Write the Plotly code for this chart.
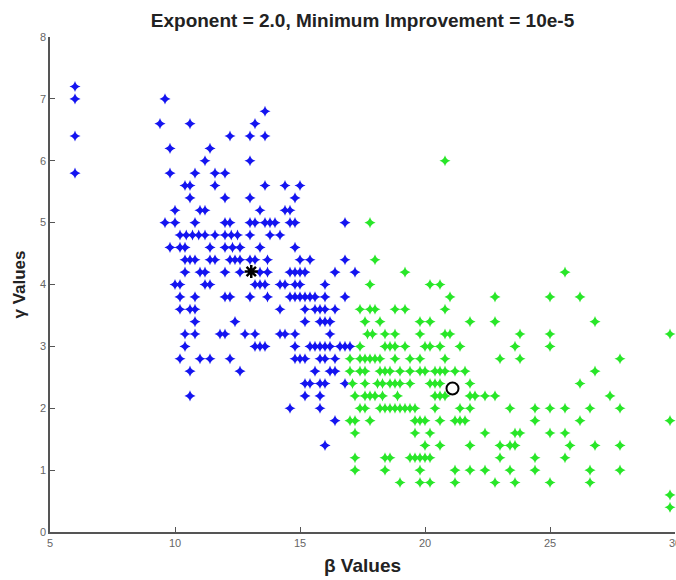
import plotly.graph_objects as go

# gamma levels (rows) and beta values found on each row
blue_levels = [7.2, 7.0, 6.8, 6.6, 6.4, 6.2, 6.0, 5.8, 5.6, 5.4, 5.2, 5.0, 4.8, 4.6, 4.4,
               4.2, 4.0, 3.8, 3.6, 3.4, 3.2, 3.0, 2.8, 2.6, 2.4, 2.2, 2.0, 1.8, 1.4]
blue_betas = [
    [6.0],
    [6.0, 9.6],
    [13.6],
    [9.4, 10.6, 13.2],
    [6.0, 12.2, 13.0, 13.6],
    [9.8, 11.4],
    [11.2, 13.0],
    [6.0, 9.8, 10.8, 11.6, 12.0],
    [10.4, 10.6, 11.6, 13.6, 14.4, 15.0],
    [10.6, 12.0, 13.0, 14.8],
    [10.0, 11.0, 11.2, 13.4, 14.4, 14.6],
    [9.6, 10.0, 10.8, 12.0, 12.2, 13.0, 13.2, 13.6, 13.8, 14.0, 14.6, 14.8, 16.8],
    [10.2, 10.45, 10.7, 10.95, 11.2, 11.6, 12.0, 12.25, 12.5, 13.0, 13.8, 14.2],
    [9.8, 10.2, 10.4, 11.4, 12.0, 12.3, 12.6, 13.4, 14.8],
    [10.4, 10.6, 10.8, 11.4, 11.6, 12.2, 12.4, 12.6, 13.0, 13.2, 13.7, 15.0, 15.4, 16.8],
    [10.4, 11.0, 11.2, 12.0, 12.6, 13.4, 13.7, 14.6, 14.8, 15.0, 15.2, 16.4, 17.2],
    [10.0, 10.2, 11.2, 11.4, 13.2, 13.4, 13.6, 14.2, 14.4, 14.8, 15.0, 16.0],
    [10.2, 10.8, 12.0, 12.2, 13.0, 13.7, 14.6, 14.8, 15.0, 15.2, 15.4, 15.6, 16.0, 16.8],
    [10.2, 10.6, 10.8, 14.2, 15.2, 15.6, 15.8, 16.0, 16.4],
    [10.8, 12.4, 15.2, 15.8, 16.0, 16.2],
    [10.4, 10.8, 11.8, 12.0, 12.8, 13.2, 14.2, 14.4, 14.8, 16.2],
    [10.4, 13.2, 13.4, 13.6, 14.8, 15.4, 15.6, 15.8, 16.0, 16.2, 16.6, 16.8, 17.0],
    [10.2, 11.0, 11.4, 12.2, 14.8, 15.0, 15.2, 15.8, 16.0, 16.4],
    [10.6, 12.6, 15.6, 16.2, 16.4],
    [15.2, 15.4, 15.8, 16.0, 16.8],
    [10.6, 15.2, 15.8],
    [14.6, 15.8],
    [16.4],
    [16.0],
]

green_levels = [6.0, 5.0, 4.4, 4.2, 4.0, 3.8, 3.6, 3.4, 3.2, 3.0, 2.8, 2.6, 2.4, 2.2,
                2.0, 1.8, 1.6, 1.4, 1.2, 1.0, 0.8, 0.6, 0.4]
green_betas = [
    [20.8],
    [17.8],
    [18.0],
    [19.2, 25.6],
    [17.8, 20.2, 20.6],
    [21.0, 22.8, 25.0, 26.2],
    [17.4, 17.8, 18.0, 18.8, 19.2, 20.8],
    [17.6, 18.2, 19.8, 20.2, 21.8, 22.8, 26.8],
    [17.7, 17.9, 18.4, 18.8, 19.8, 20.8, 21.0, 23.8, 25.0, 29.8],
    [17.4, 18.4, 18.6, 18.8, 19.2, 20.0, 20.2, 20.6, 21.4, 23.6, 25.0],
    [17.0, 17.4, 17.6, 17.8, 18.0, 18.2, 18.8, 19.4, 19.8, 20.8, 23.0, 23.8, 27.8],
    [17.0, 17.4, 17.6, 18.2, 18.4, 18.6, 19.0, 19.4, 19.8, 20.0, 20.4, 20.6, 20.8,
     21.2, 21.6, 26.8],
    [17.1, 17.6, 18.1, 18.3, 18.6, 18.8, 19.0, 19.4, 20.2, 20.4, 20.6, 21.8, 26.2],
    [17.2, 17.6, 17.8, 18.0, 18.3, 18.9, 20.4, 20.6, 20.8, 21.8, 22.0, 22.4, 22.8, 27.4],
    [17.4, 17.6, 18.2, 18.4, 18.6, 18.8, 19.0, 19.2, 19.4, 19.6, 20.4, 21.4, 21.8,
     23.4, 24.4, 25.0, 25.6, 26.6, 27.8],
    [17.0, 17.2, 17.8, 19.6, 19.8, 20.0, 20.6, 21.2, 21.4, 21.6, 24.4, 26.2, 29.8],
    [17.2, 19.6, 20.2, 22.4, 23.6, 23.8, 25.0, 25.6],
    [20.0, 20.6, 21.8, 23.0, 23.4, 23.6, 25.8, 26.8, 27.8],
    [17.2, 18.4, 18.6, 19.4, 19.6, 19.8, 20.0, 20.2, 23.0, 24.4, 25.6],
    [17.2, 18.4, 19.8, 21.2, 21.8, 22.4, 23.4, 24.4, 26.6, 27.8],
    [19.0, 19.8, 20.2, 21.2, 22.8, 23.6, 25.0, 26.6],
    [29.8],
    [29.8],
]

center_blue = [13.05, 4.21]
center_green = [21.1, 2.32]

title_text = "Exponent = 2.0, Minimum Improvement = 10e-5"
x_title = "β Values"
y_title = "γ Values"
x_ticks = [5, 10, 15, 20, 25, 30]
y_ticks = [0, 1, 2, 3, 4, 5, 6, 7, 8]


def flatten(levels, betas):
    xs, ys = [], []
    for lv, row in zip(levels, betas):
        for b in row:
            xs.append(b)
            ys.append(lv)
    return xs, ys


bx, by = flatten(blue_levels, blue_betas)
gx, gy = flatten(green_levels, green_betas)

fig = go.Figure()
fig.add_trace(go.Scatter(x=bx, y=by, mode="markers",
                         marker=dict(symbol="star-diamond", size=8, color="rgb(20,20,240)",
                                     line=dict(width=0)),
                         showlegend=False, cliponaxis=False))
fig.add_trace(go.Scatter(x=gx, y=gy, mode="markers",
                         marker=dict(symbol="star-diamond", size=8, color="rgb(40,230,40)",
                                     line=dict(width=0)),
                         showlegend=False, cliponaxis=False))
fig.add_trace(go.Scatter(x=[center_blue[0]], y=[center_blue[1]], mode="markers",
                         marker=dict(symbol="asterisk-open", size=11, color="black",
                                     line=dict(width=2.5, color="black")),
                         showlegend=False))
fig.add_trace(go.Scatter(x=[center_green[0]], y=[center_green[1]], mode="markers",
                         marker=dict(symbol="circle-open", size=12, color="black",
                                     line=dict(width=2, color="black")),
                         showlegend=False))

axis_common = dict(showline=True, linecolor="#555", linewidth=1.5, ticks="inside",
                   ticklen=5, tickcolor="#555", showgrid=False, zeroline=False,
                   mirror=False, automargin=False, ticklabeloverflow="allow",
                   tickfont=dict(family="Liberation Sans", size=11, color="#666"))

fig.update_layout(
    width=676, height=580,
    margin=dict(l=50, r=1, t=37, b=48),
    paper_bgcolor="white", plot_bgcolor="white",
    title=dict(text="<b>" + title_text + "</b>", x=0.5, xref="paper", y=1 - 20 / 580,
               yanchor="middle",
               font=dict(family="Liberation Sans", size=19, color="#222")),
    xaxis=dict(range=[5, 30], tickvals=x_ticks,
               title=dict(text="<b>" + x_title + "</b>", standoff=11,
                          font=dict(family="Liberation Sans", size=19, color="#222")),
               **axis_common),
    yaxis=dict(range=[0, 8], tickvals=y_ticks,
               title=dict(text="<b>" + y_title + "</b>", standoff=10,
                          font=dict(family="Liberation Sans", size=17, color="#222")),
               **axis_common),
)

fig.write_html("out.html", config={"displayModeBar": False},
               post_script="document.body.style.margin='0';")
